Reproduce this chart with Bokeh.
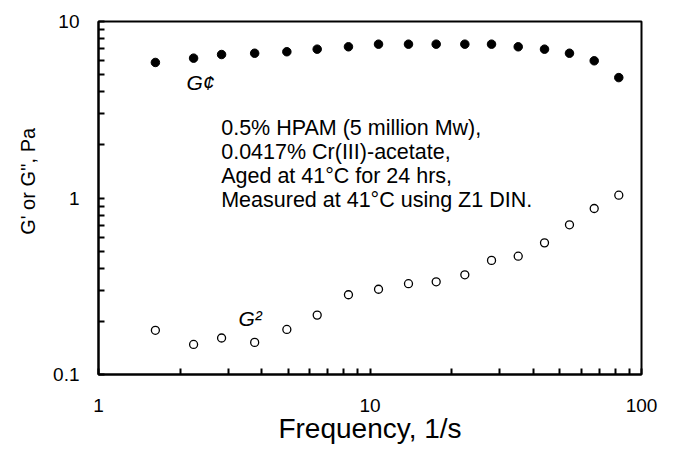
from bokeh.plotting import figure
from bokeh.models import Label, FixedTicker, CustomJSTickFormatter, ColumnDataSource
from bokeh.embed import file_html
from bokeh.resources import INLINE

# ---- data ----
freq = [1.62, 2.24, 2.84, 3.76, 4.94, 6.39, 8.33, 10.75, 13.86, 17.53,
        22.35, 28.03, 35.15, 43.93, 54.29, 66.96, 82.48]
g_storage = [5.86, 6.20, 6.50, 6.61, 6.74, 6.97, 7.19, 7.44, 7.44, 7.44,
             7.44, 7.44, 7.19, 6.97, 6.61, 5.99, 4.81]
g_loss = [0.178, 0.148, 0.161, 0.152, 0.180, 0.217, 0.283, 0.304, 0.327, 0.335,
          0.367, 0.443, 0.468, 0.557, 0.705, 0.872, 1.037]

x_ticks = [1, 10, 100]
x_tick_labels = ["1", "10", "100"]
x_minor = [2, 3, 4, 5, 6, 7, 8, 9, 20, 30, 40, 50, 60, 70, 80, 90]
y_ticks = [0.1, 1, 10]
y_tick_labels = ["0.1", "1", "10"]
y_minor = [0.2, 0.3, 0.4, 0.5, 0.6, 0.7, 0.8, 0.9, 2, 3, 4, 5, 6, 7, 8, 9]

note_lines = ["0.5% HPAM (5 million Mw),",
              "0.0417% Cr(III)-acetate,",
              "Aged at 41°C for 24 hrs,",
              "Measured at 41°C using Z1 DIN."]
x_title = "Frequency, 1/s"
y_title = "G' or G'', Pa"

FONT = "Liberation Sans"

W, H = 677, 453
# frame in page pixels
FL, FR, FT, FB = 98, 641, 21, 374
p = figure(width=W, height=H, x_axis_type="log", y_axis_type="log",
           x_range=(1, 100), y_range=(0.1, 10),
           output_backend="svg", toolbar_location=None,
           min_border_left=FL, min_border_right=W - FR,
           min_border_top=FT, min_border_bottom=H - FB)
p.background_fill_color = "white"
p.border_fill_color = "white"
p.grid.visible = False
p.outline_line_color = "black"
p.outline_line_width = 2

def px_to_x(px):
    return 10 ** ((px - FL) / (FR - FL) * 2)

def py_to_y(py):
    return 10 ** (1 - (py - FT) / (FB - FT) * 2)

fmt_code = """
let best = 0; let bd = 1e9;
for (let i = 0; i < vals.length; i++) {
  const d = Math.abs(Math.log10(tick) - Math.log10(vals[i]));
  if (d < bd) { bd = d; best = i; }
}
return labs[best];
"""

for ax, ticks, minor, labs in ((p.xaxis[0], x_ticks, x_minor, x_tick_labels),
                               (p.yaxis[0], y_ticks, y_minor, y_tick_labels)):
    ax.ticker = FixedTicker(ticks=ticks, minor_ticks=minor)
    ax.formatter = CustomJSTickFormatter(args=dict(vals=ticks, labs=labs), code=fmt_code)
    ax.axis_line_color = "black"
    ax.axis_line_width = 2
    ax.major_tick_in = 6
    ax.major_tick_out = 0
    ax.minor_tick_in = 6
    ax.minor_tick_out = 0
    ax.major_tick_line_width = 2
    ax.minor_tick_line_width = 2
    ax.major_tick_line_color = "black"
    ax.minor_tick_line_color = "black"
    ax.major_label_text_font = FONT
    ax.major_label_text_font_size = "19px"
    ax.major_label_text_color = "black"
    ax.axis_label_text_font = FONT
    ax.axis_label_text_font_style = "normal"
    ax.axis_label_text_color = "black"

p.xaxis.major_label_standoff = 24
p.yaxis.major_label_standoff = 19
p.xaxis.axis_label = x_title
p.xaxis.axis_label_text_font_size = "28px"
p.xaxis.axis_label_standoff = -2
# leading no-break spaces shift the (frame-centred) title up, as in the reference
p.yaxis.axis_label = "\u00a0" * 6 + y_title
p.yaxis.axis_label_text_font_size = "20px"
p.yaxis.axis_label_standoff = 11

src = ColumnDataSource(dict(f=freq, gs=g_storage, gl=g_loss))
p.scatter("f", "gs", source=src, marker="circle", size=8.5,
          fill_color="black", line_color="black", line_width=1)
p.scatter("f", "gl", source=src, marker="circle", size=8,
          fill_color=None, line_color="black", line_width=1.3)

# series labels
p.add_layout(Label(x=px_to_x(186), y=py_to_y(82), text="G¢", text_font=FONT,
                   text_font_style="italic", text_font_size="21px",
                   text_baseline="alphabetic", text_color="black"))
p.add_layout(Label(x=px_to_x(238), y=py_to_y(318), text="G²", text_font=FONT,
                   text_font_style="italic", text_font_size="21px",
                   text_baseline="alphabetic", text_color="black"))

# note block
for i, line in enumerate(note_lines):
    p.add_layout(Label(x=px_to_x(220.7), y=py_to_y(127.3 + 23.9 * i), text=line,
                       text_font=FONT, text_font_size="21.5px",
                       text_baseline="alphabetic", text_color="black"))

open("out.html", "w").write(file_html(p, INLINE))
